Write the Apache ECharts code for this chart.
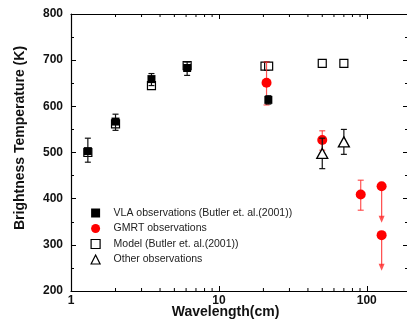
<!DOCTYPE html>
<html>
<head>
<meta charset="utf-8">
<script src="https://cdn.jsdelivr.net/npm/echarts@6/dist/echarts.min.js"></script>
<style>
  html, body { margin: 0; padding: 0; background: #fff; }
  #chart { width: 407px; height: 322px; }
</style>
</head>
<body>
<div id="chart"></div>
<script>
// VLA observations (filled squares) with error bars
const vlaWavelength = [1.3, 2.0, 3.5, 6.1, 21.6];
const vlaTemp       = [503, 567, 659, 683, 614];
const vlaLow        = [479, 548, 645, 667, 605];
const vlaHigh       = [531, 583, 671, 696, 623];

// Model (open squares)
const modelWavelength = [1.3, 2.0, 3.5, 6.1, 20.5, 21.7, 50, 70];
const modelTemp       = [500, 562, 645, 688, 687, 687, 693, 693];

// GMRT observations (red circles) with error bars
const gmrtWavelength = [21, 50, 91];
const gmrtTemp       = [651, 527, 409];
const gmrtLow        = [603, 505, 375];
const gmrtHigh       = [696, 547, 440];

// GMRT upper limits (red circles with downward arrows)
const limitWavelength = [126, 126];
const limitTemp       = [427, 321];
const limitArrowTo    = [348, 244];

// Other observations (open triangles) with error bars
const otherWavelength = [50, 70];
const otherTemp       = [498, 523];
const otherLow        = [465, 496];
const otherHigh       = [531, 550];

// Axis ticks
const xMajorTicks = [1, 10, 100];
const xMinorTicks = [2, 3, 4, 5, 6, 7, 8, 9, 20, 30, 40, 50, 60, 70, 80, 90];

const seriesNames = [
  'VLA observations (Butler et. al.(2001))',
  'GMRT observations',
  'Model (Butler et. al.(2001))',
  'Other observations'
];

const zip = (xs, ...cols) => xs.map((x, i) => [x, ...cols.map(c => c[i])]);

function errorBar(color) {
  return function (params, api) {
    const x = api.value(0);
    const lo = api.coord([x, api.value(1)]);
    const hi = api.coord([x, api.value(2)]);
    const h = 3;
    const st = { stroke: color, lineWidth: 1.2 };
    return {
      type: 'group',
      children: [
        { type: 'line', shape: { x1: lo[0], y1: lo[1], x2: hi[0], y2: hi[1] }, style: st },
        { type: 'line', shape: { x1: lo[0] - h, y1: lo[1], x2: lo[0] + h, y2: lo[1] }, style: st },
        { type: 'line', shape: { x1: hi[0] - h, y1: hi[1], x2: hi[0] + h, y2: hi[1] }, style: st }
      ]
    };
  };
}

function limitArrow(params, api) {
  const x = api.value(0);
  const from = api.coord([x, api.value(1)]);
  const to = api.coord([x, api.value(2)]);
  const c = 'rgba(255,40,40,0.8)';
  return {
    type: 'group',
    children: [
      { type: 'line', shape: { x1: from[0], y1: from[1], x2: to[0], y2: to[1] - 5 }, style: { stroke: c, lineWidth: 1.3 } },
      { type: 'polygon', shape: { points: [[to[0] - 3, to[1] - 7], [to[0] + 3, to[1] - 7], [to[0], to[1]]] }, style: { fill: c } }
    ]
  };
}

function minorTicks(side) {
  return function (params, api) {
    const cs = params.coordSys;
    const px = api.coord([api.value(0), 500])[0];
    const len = 3;
    const y0 = side === 'bottom' ? cs.y + cs.height : cs.y;
    const y1 = side === 'bottom' ? y0 - len : y0 + len;
    return { type: 'line', shape: { x1: px, y1: y0, x2: px, y2: y1 }, style: { stroke: '#000', lineWidth: 1 } };
  };
}

const axisLineStyle = { color: '#000', width: 1.2 };
const labelFont = { fontFamily: 'Liberation Sans, Arial, sans-serif', fontWeight: 'bold', fontSize: 12, color: '#111' };

const chart = echarts.init(document.getElementById('chart'), null, { renderer: 'canvas' });

chart.setOption({
  animation: false,
  backgroundColor: '#fff',
  grid: { left: 71, right: -1, top: 14, bottom: 31, containLabel: false, outerBoundsMode: 'none' },
  legend: {
    orient: 'vertical',
    left: 85.5,
    top: 202.5,
    itemWidth: 9,
    itemHeight: 9,
    itemGap: 4.5,
    selectedMode: false,
    textStyle: { fontFamily: 'Liberation Sans, Arial, sans-serif', fontSize: 10.5, color: '#222', padding: [0, 0, 0, 8.5], lineHeight: 11 },
    data: [
      { name: seriesNames[0], icon: 'rect', itemStyle: { color: '#000', borderWidth: 0 } },
      { name: seriesNames[1], icon: 'circle', itemStyle: { color: '#ff0000', borderWidth: 0 } },
      { name: seriesNames[2], icon: 'rect', itemStyle: { color: '#fff', borderColor: '#000', borderWidth: 1.2 } },
      { name: seriesNames[3], icon: 'triangle', itemStyle: { color: '#fff', borderColor: '#000', borderWidth: 1.2 } }
    ]
  },
  xAxis: [
    {
      type: 'log', logBase: 10, min: 1, max: 190,
      axisLine: { lineStyle: axisLineStyle },
      axisTick: { inside: true, length: 5, lineStyle: { color: '#000' } },
      splitLine: { show: false },
      axisLabel: {
        ...labelFont, margin: 4, showMaxLabel: false,
        formatter: v => (xMajorTicks.includes(Math.round(v)) ? String(Math.round(v)) : '')
      },
      name: 'Wavelength(cm)',
      nameLocation: 'middle',
      nameGap: 14,
      nameMoveOverlap: false,
      nameTextStyle: { fontFamily: 'Liberation Sans, Arial, sans-serif', fontWeight: 'bold', fontSize: 14, color: '#111', padding: [0, 28, 0, 0] }
    },
    {
      type: 'log', logBase: 10, min: 1, max: 190, position: 'top',
      axisLine: { lineStyle: axisLineStyle },
      axisTick: { inside: true, length: 5, lineStyle: { color: '#000' } },
      axisLabel: { show: false },
      splitLine: { show: false }
    }
  ],
  yAxis: [
    {
      type: 'value', min: 200, max: 800, interval: 100,
      axisLine: { show: true, lineStyle: axisLineStyle },
      axisTick: { show: true, inside: true, length: 5, lineStyle: { color: '#000' } },
      minorTick: { show: true, splitNumber: 2, length: 3, lineStyle: { color: '#000' } },
      splitLine: { show: false },
      axisLabel: { ...labelFont, margin: 8 },
      name: 'Brightness Temperature (K)',
      nameLocation: 'middle',
      nameGap: 44,
      nameRotate: 90,
      nameMoveOverlap: false,
      nameTextStyle: { fontFamily: 'Liberation Sans, Arial, sans-serif', fontWeight: 'bold', fontSize: 14, color: '#111', padding: [0, 0, 0, 29] }
    },
    {
      type: 'value', min: 200, max: 800, interval: 100, position: 'right',
      axisLine: { show: true, lineStyle: axisLineStyle },
      axisTick: { show: true, inside: true, length: 5, lineStyle: { color: '#000' } },
      minorTick: { show: true, splitNumber: 2, length: 3, lineStyle: { color: '#000' } },
      splitLine: { show: false },
      axisLabel: { show: false }
    }
  ],
  series: [
    {
      type: 'custom', renderItem: minorTicks('bottom'), silent: true,
      data: xMinorTicks.map(v => [v]), encode: { x: 0 }
    },
    {
      type: 'custom', renderItem: minorTicks('top'), silent: true,
      data: xMinorTicks.map(v => [v]), encode: { x: 0 }
    },
    {
      name: seriesNames[2], type: 'scatter', symbol: 'rect', symbolSize: 8, z: 3,
      itemStyle: { color: '#fff', borderColor: '#000', borderWidth: 1.2, opacity: 1 },
      data: zip(modelWavelength, modelTemp)
    },
    {
      type: 'custom', renderItem: errorBar('rgba(255,40,40,0.8)'), z: 4,
      data: zip(gmrtWavelength, gmrtLow, gmrtHigh), encode: { x: 0, y: [1, 2] }
    },
    {
      type: 'custom', renderItem: limitArrow, z: 4,
      data: zip(limitWavelength, limitTemp, limitArrowTo), encode: { x: 0, y: [1, 2] }
    },
    {
      name: seriesNames[1], type: 'scatter', symbol: 'circle', symbolSize: 10, z: 5,
      itemStyle: { color: '#ff0000', opacity: 1 },
      data: zip(gmrtWavelength, gmrtTemp).concat(zip(limitWavelength, limitTemp))
    },
    {
      type: 'custom', renderItem: errorBar('#111'), z: 6,
      data: zip(vlaWavelength, vlaLow, vlaHigh), encode: { x: 0, y: [1, 2] }
    },
    {
      name: seriesNames[0], type: 'scatter', symbol: 'rect', symbolSize: 8, z: 7,
      itemStyle: { color: '#000', opacity: 1 },
      data: zip(vlaWavelength, vlaTemp)
    },
    {
      type: 'custom', renderItem: errorBar('#111'), z: 6,
      data: zip(otherWavelength, otherLow, otherHigh), encode: { x: 0, y: [1, 2] }
    },
    {
      name: seriesNames[3], type: 'scatter', symbol: 'triangle', symbolSize: [11, 10], z: 7,
      itemStyle: { color: '#fff', borderColor: '#000', borderWidth: 1.3, opacity: 1 },
      data: zip(otherWavelength, otherTemp)
    }
  ]
});
</script>
</body>
</html>
